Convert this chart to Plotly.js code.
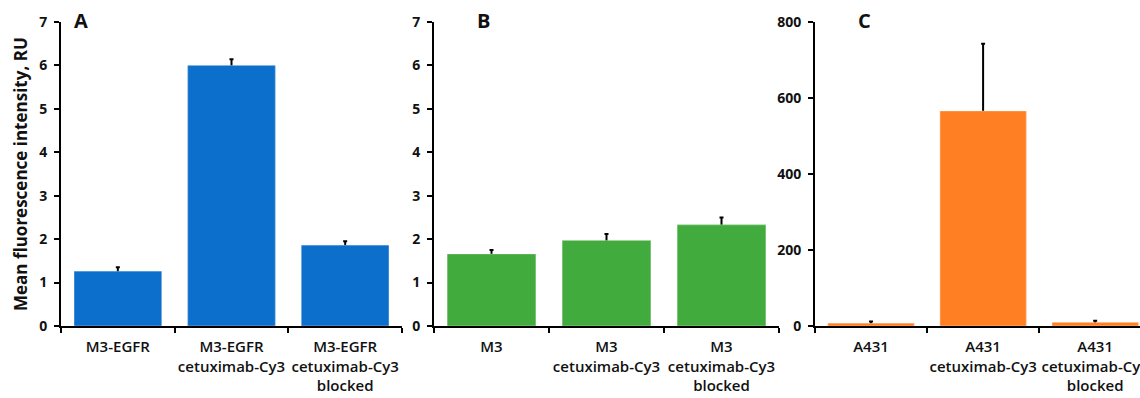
<!DOCTYPE html>
<html><head><meta charset="utf-8">
<script src="https://cdn.plot.ly/plotly-3.0.1.min.js"></script>
<style>html,body{margin:0;padding:0;background:#fff}#c{width:1140px;height:398px}</style>
</head><body><div id="c"></div>
<script>
const catsA = ["M3-EGFR", "M3-EGFR<br>cetuximab-Cy3", "M3-EGFR<br>cetuximab-Cy3<br>blocked"];
const valsA = [1.26, 6.0, 1.86];
const errA = [0.09, 0.14, 0.09];
const catsB = ["M3", "M3<br>cetuximab-Cy3", "M3<br>cetuximab-Cy3<br>blocked"];
const valsB = [1.66, 1.97, 2.33];
const errB = [0.09, 0.15, 0.17];
const catsC = ["A431", "A431<br>cetuximab-Cy3", "A431<br>cetuximab-Cy3<br>blocked"];
const valsC = [7, 566, 9];
const errC = [5, 177, 5];
const yTicksAB = [0, 1, 2, 3, 4, 5, 6, 7];
const yTicksC = [0, 200, 400, 600, 800];
const panelLabels = ["A", "B", "C"];
const yTitle = "Mean fluorescence intensity, RU";

const FONT = "'Open Sans', Lato, sans-serif";
// error bars drawn under the bar (overlay a second copy of the bar on top)
function errTrace(x, y, e, color, xa, ya) {
  return {type: "bar", x: x, y: y, xaxis: xa, yaxis: ya, width: 0.77,
    marker: {color: color},
    error_y: {type: "data", array: e, symmetric: true, color: "#000", thickness: 2, width: 2},
    hoverinfo: "skip", showlegend: false};
}
function bar(x, y, color, xa, ya) {
  return {type: "bar", x: x, y: y, xaxis: xa, yaxis: ya, width: 0.77,
    marker: {color: color, line: {color: "rgba(255,255,255,0.35)", width: 1}},
    hoverinfo: "skip", showlegend: false};
}
const data = [
  errTrace(catsA, valsA, errA, "#0B6FCB", "x", "y"),
  bar(catsA, valsA, "#0B6FCB", "x", "y"),
  errTrace(catsB, valsB, errB, "#42AB3D", "x2", "y2"),
  bar(catsB, valsB, "#42AB3D", "x2", "y2"),
  errTrace(catsC, valsC, errC, "#FF7F22", "x3", "y3"),
  bar(catsC, valsC, "#FF7F22", "x3", "y3")
];
const W = 1140, H = 398;
const ydom = [1 - 326 / H, 1 - 22 / H];
function xax(d0, d1, range) {
  return {domain: [d0 / W, d1 / W], range: range, type: "category",
    showline: true, linecolor: "#000", linewidth: 2, ticks: "outside", tickson: "boundaries",
    ticklen: 5, tickwidth: 2, tickcolor: "#000", showgrid: false, zeroline: false,
    ticklabelstandoff: 6, tickangle: 0,
    tickfont: {family: FONT, size: 15, color: "#111", weight: 600}, automargin: false, fixedrange: true};
}
function yax(anchor, range, tv) {
  return {domain: ydom, range: range, anchor: anchor, tickvals: tv,
    showline: true, linecolor: "#000", linewidth: 2, ticks: "outside",
    ticklen: 5, tickwidth: 2, tickcolor: "#000", showgrid: false, zeroline: false,
    ticklabelstandoff: 4,
    tickfont: {family: FONT, size: 14, color: "#111", weight: "bold"}, automargin: false, fixedrange: true};
}
function label(t, x) {
  return {text: t, xref: "paper", yref: "paper", x: x / W, y: 1 - 20 / H,
    xanchor: "center", yanchor: "middle", showarrow: false,
    font: {family: FONT, size: 20, color: "#111", weight: "bold"}};
}
const layout = {
  width: W, height: H, margin: {l: 0, r: 0, t: 0, b: 0},
  paper_bgcolor: "#fff", plot_bgcolor: "#fff", barmode: "overlay",
  xaxis: Object.assign(xax(61, 402, [-0.5, 2.5]), {anchor: "y"}),
  yaxis: yax("x", [0, 7], yTicksAB),
  xaxis2: Object.assign(xax(434, 779, [-0.5, 2.5]), {anchor: "y2"}),
  yaxis2: yax("x2", [0, 7], yTicksAB),
  xaxis3: Object.assign(xax(815, 1140, [-0.5, 2.40]), {anchor: "y3"}),
  yaxis3: yax("x3", [0, 800], yTicksC),
  annotations: [
    {text: yTitle, xref: "paper", yref: "paper", x: 20 / W, y: 1 - 174 / H, textangle: -90,
      xanchor: "center", yanchor: "middle",
      showarrow: false, font: {family: FONT, size: 17, color: "#111", weight: "bold"}},
    label(panelLabels[0], 81),
    label(panelLabels[1], 483),
    label(panelLabels[2], 864)
  ]
};
Plotly.newPlot("c", data, layout, {displayModeBar: false, staticPlot: true});
</script></body></html>
